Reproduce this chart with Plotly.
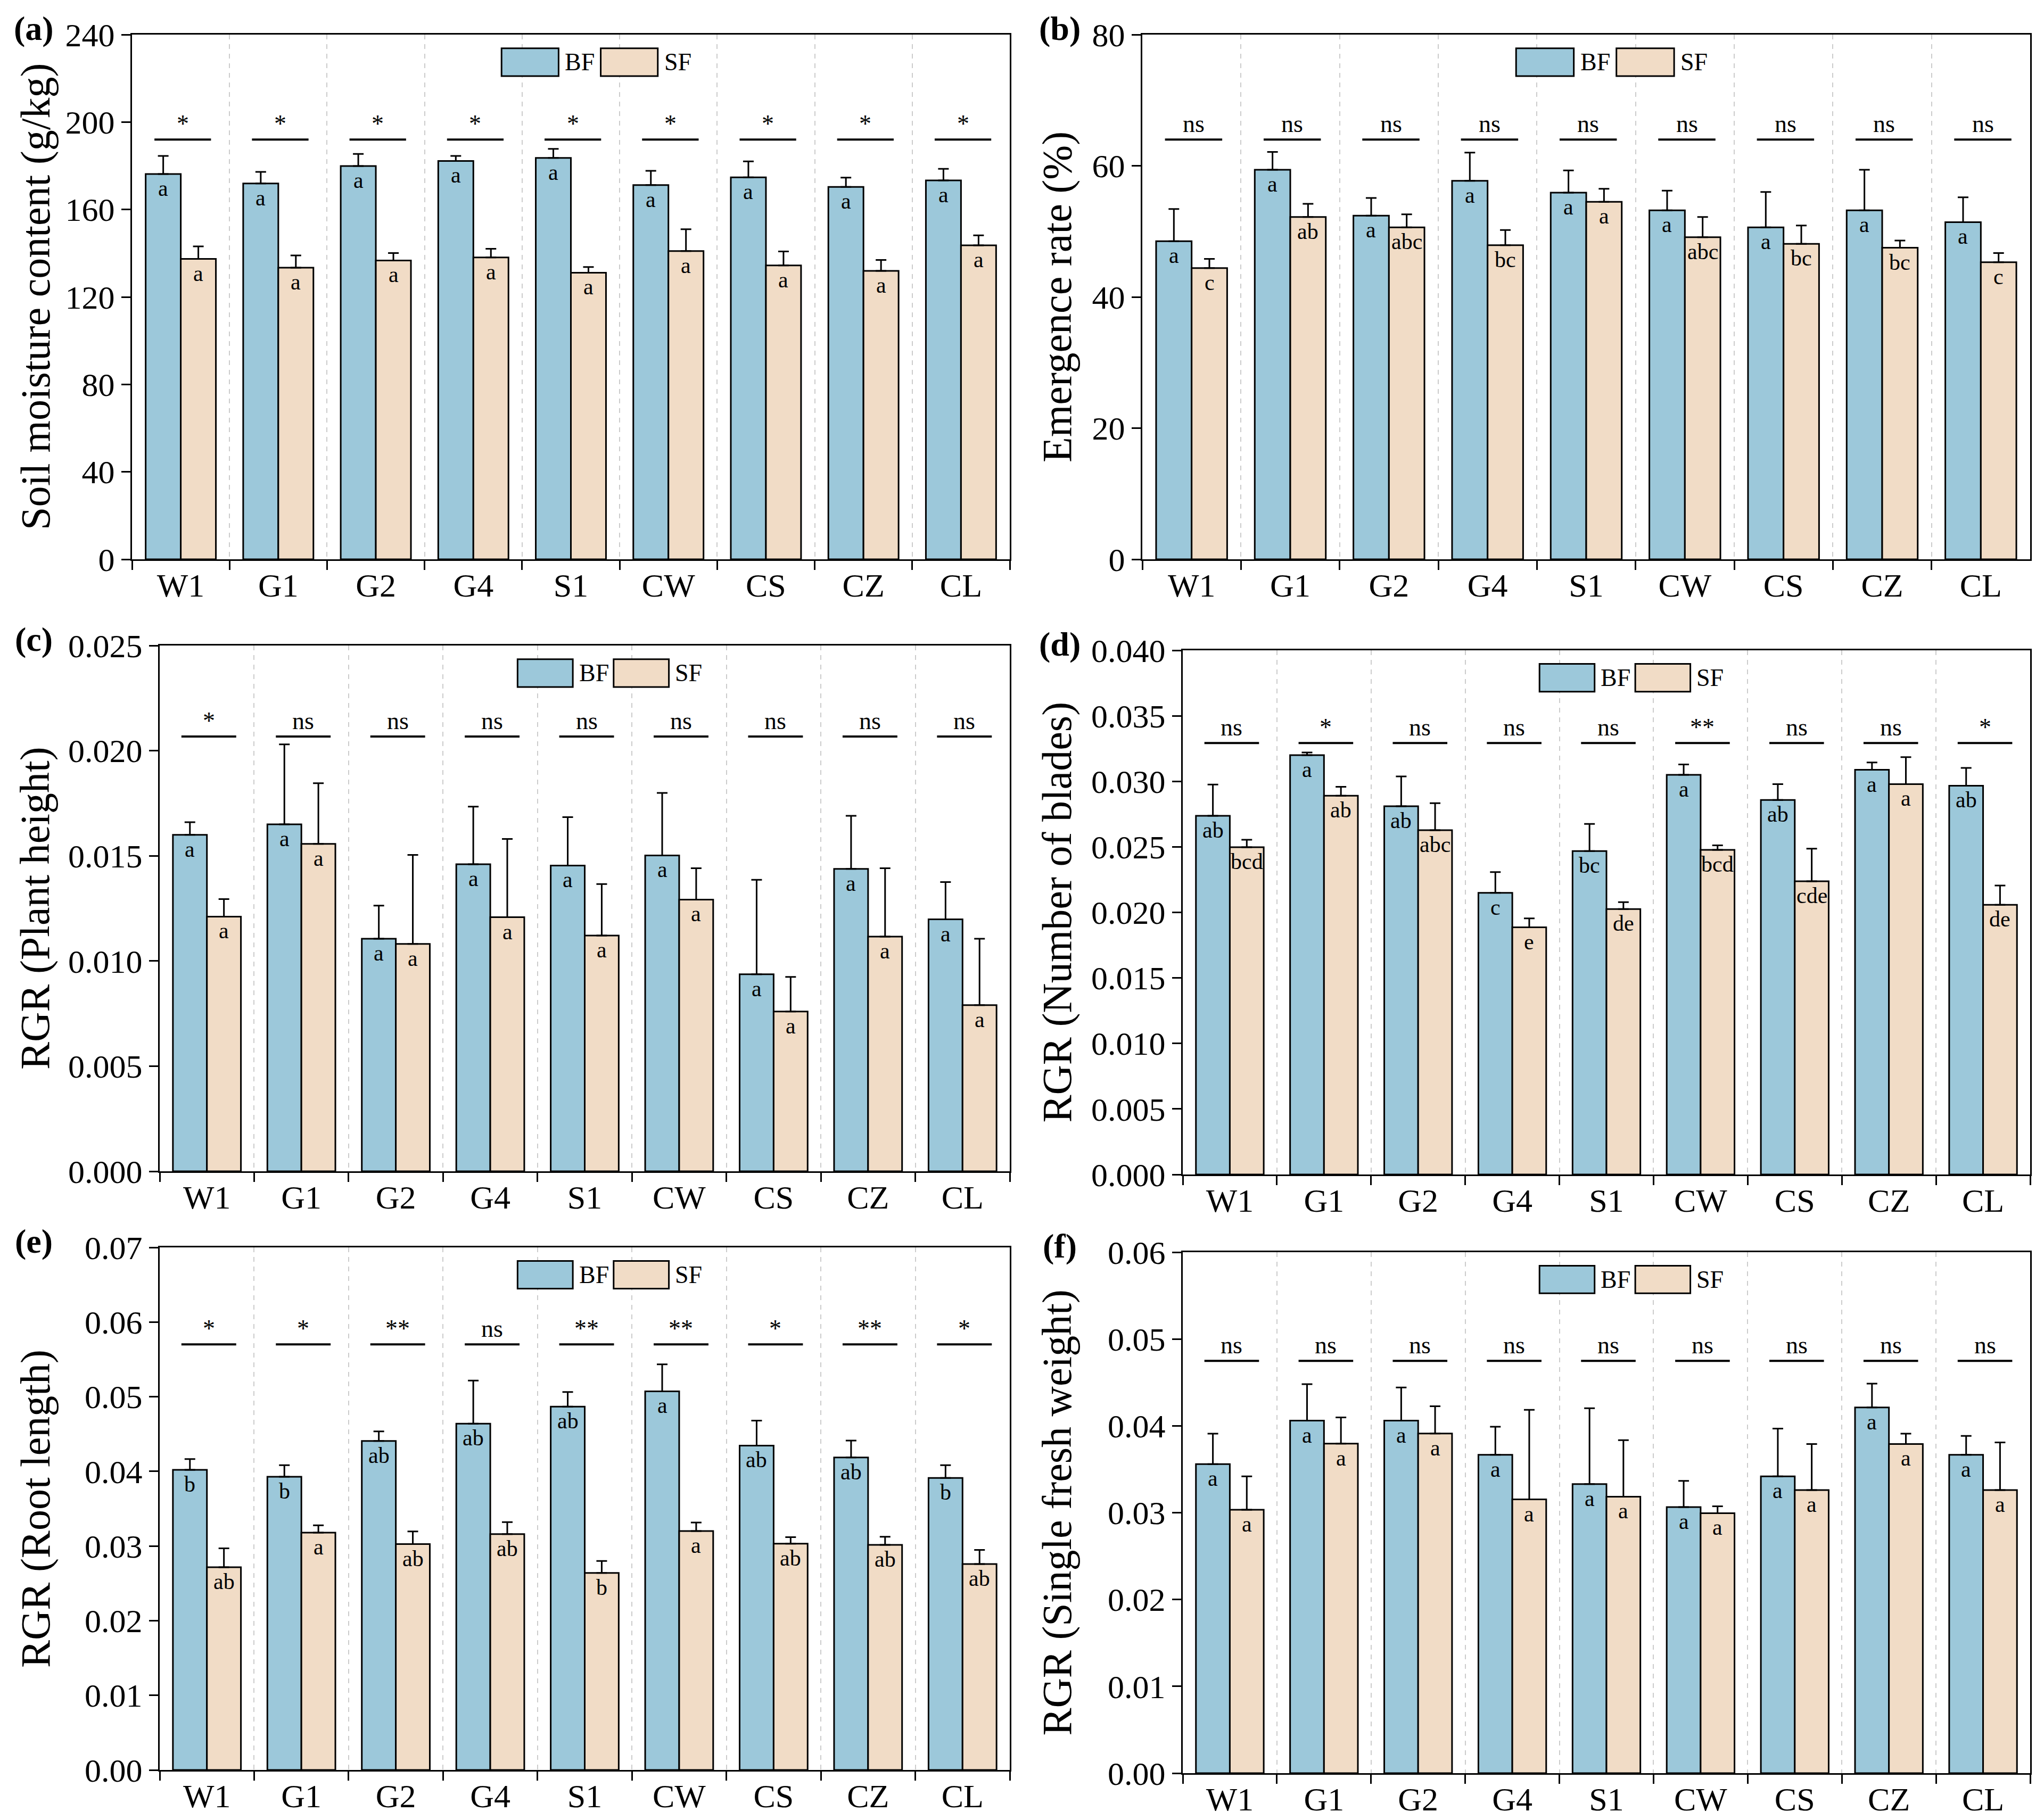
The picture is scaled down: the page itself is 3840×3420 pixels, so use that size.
import plotly.graph_objects as go

categories = ["W1", "G1", "G2", "G4", "S1", "CW", "CS", "CZ", "CL"]

# (a) Soil moisture content
a_bf = [176.2, 171.9, 179.9, 182.2, 183.6, 171.2, 174.7, 170.3, 173.3]
a_bf_err = [8.3, 5.3, 5.5, 2.3, 4.1, 6.5, 7.3, 4.3, 5.3]
a_sf = [137.4, 133.4, 136.7, 138.1, 131.1, 141.0, 134.4, 131.9, 143.6]
a_sf_err = [5.7, 5.6, 3.4, 3.9, 2.6, 10.0, 6.4, 5.0, 4.6]
a_bf_letters = ["a", "a", "a", "a", "a", "a", "a", "a", "a"]
a_sf_letters = ["a", "a", "a", "a", "a", "a", "a", "a", "a"]
a_sig = ["*", "*", "*", "*", "*", "*", "*", "*", "*"]
a_sig_level = 192

# (b) Emergence rate
b_bf = [48.5, 59.4, 52.4, 57.7, 55.9, 53.2, 50.6, 53.2, 51.4]
b_bf_err = [4.9, 2.7, 2.7, 4.3, 3.4, 3.0, 5.4, 6.2, 3.8]
b_sf = [44.4, 52.2, 50.6, 47.9, 54.5, 49.1, 48.1, 47.5, 45.3]
b_sf_err = [1.4, 2.0, 2.0, 2.3, 2.0, 3.1, 2.8, 1.1, 1.4]
b_bf_letters = ["a", "a", "a", "a", "a", "a", "a", "a", "a"]
b_sf_letters = ["c", "ab", "abc", "bc", "a", "abc", "bc", "bc", "c"]
b_sig = ["ns", "ns", "ns", "ns", "ns", "ns", "ns", "ns", "ns"]
b_sig_level = 64

# (c) RGR plant height
c_bf = [0.0160, 0.0165, 0.01106, 0.0146, 0.01454, 0.01502, 0.00937, 0.01438, 0.01198]
c_bf_err = [0.0006, 0.0038, 0.00157, 0.00274, 0.0023, 0.00297, 0.00449, 0.00252, 0.00177]
c_sf = [0.01211, 0.01557, 0.01081, 0.01208, 0.01121, 0.01292, 0.0076, 0.01116, 0.0079]
c_sf_err = [0.00083, 0.00288, 0.00423, 0.00372, 0.00245, 0.00149, 0.00164, 0.00325, 0.00316]
c_bf_letters = ["a", "a", "a", "a", "a", "a", "a", "a", "a"]
c_sf_letters = ["a", "a", "a", "a", "a", "a", "a", "a", "a"]
c_sig = ["*", "ns", "ns", "ns", "ns", "ns", "ns", "ns", "ns"]
c_sig_level = 0.02067

# (d) RGR number of blades
d_bf = [0.02737, 0.0320, 0.0281, 0.02149, 0.02468, 0.0305, 0.02858, 0.03088, 0.02967]
d_bf_err = [0.00239, 0.0002, 0.00228, 0.00159, 0.00207, 0.00079, 0.00121, 0.00056, 0.00136]
d_sf = [0.02497, 0.0289, 0.02627, 0.01886, 0.02025, 0.02477, 0.02238, 0.02979, 0.02058]
d_sf_err = [0.00057, 0.00068, 0.00207, 0.00068, 0.00053, 0.00035, 0.00248, 0.00206, 0.00147]
d_bf_letters = ["ab", "a", "ab", "c", "bc", "a", "ab", "a", "ab"]
d_sf_letters = ["bcd", "ab", "abc", "e", "de", "bcd", "cde", "a", "de"]
d_sig = ["ns", "*", "ns", "ns", "ns", "**", "ns", "ns", "*"]
d_sig_level = 0.03292

# (e) RGR root length
e_bf = [0.0402, 0.03928, 0.04407, 0.04639, 0.04866, 0.05072, 0.04345, 0.04186, 0.03912]
e_bf_err = [0.00145, 0.00154, 0.00129, 0.00577, 0.00196, 0.00361, 0.00335, 0.00226, 0.0017]
e_sf = [0.02716, 0.0318, 0.03026, 0.0316, 0.02639, 0.03201, 0.03031, 0.03015, 0.02758]
e_sf_err = [0.00253, 0.00098, 0.0017, 0.0016, 0.0016, 0.00113, 0.00088, 0.00109, 0.0019]
e_bf_letters = ["b", "b", "ab", "ab", "ab", "a", "ab", "ab", "b"]
e_sf_letters = ["ab", "a", "ab", "ab", "b", "a", "ab", "ab", "ab"]
e_sig = ["*", "*", "**", "ns", "**", "**", "*", "**", "*"]
e_sig_level = 0.057

# (f) RGR single fresh weight
f_bf = [0.0356, 0.0406, 0.0406, 0.03667, 0.0333, 0.03065, 0.03419, 0.04212, 0.03667]
f_bf_err = [0.0035, 0.0042, 0.00382, 0.00323, 0.00873, 0.00301, 0.00549, 0.00274, 0.00217]
f_sf = [0.03034, 0.03795, 0.03911, 0.03153, 0.03184, 0.02994, 0.0326, 0.03791, 0.0326]
f_sf_err = [0.00385, 0.00302, 0.00314, 0.01032, 0.00651, 0.00079, 0.00531, 0.00119, 0.00549]
f_bf_letters = ["a", "a", "a", "a", "a", "a", "a", "a", "a"]
f_sf_letters = ["a", "a", "a", "a", "a", "a", "a", "a", "a"]
f_sig = ["ns", "ns", "ns", "ns", "ns", "ns", "ns", "ns", "ns"]
f_sig_level = 0.04748

W, H = 3840, 3420
FONT = "Liberation Serif"
BF_COLOR = "#9cc8da"
SF_COLOR = "#f1dcc6"

panels = [
    dict(tag="(a)", title="Soil moisture content (g/kg)", bf=a_bf, bf_err=a_bf_err, sf=a_sf, sf_err=a_sf_err,
         bl=a_bf_letters, sl=a_sf_letters, sig=a_sig, lvl=a_sig_level, yr=[0, 240], dt=40, fmt="d",
         px=(240, 1889), py=(57, 1043)),
    dict(tag="(b)", title="Emergence rate (%)", bf=b_bf, bf_err=b_bf_err, sf=b_sf, sf_err=b_sf_err,
         bl=b_bf_letters, sl=b_sf_letters, sig=b_sig, lvl=b_sig_level, yr=[0, 80], dt=20, fmt="d",
         px=(2138, 3806), py=(57, 1043)),
    dict(tag="(c)", title="RGR (Plant height)", bf=c_bf, bf_err=c_bf_err, sf=c_sf, sf_err=c_sf_err,
         bl=c_bf_letters, sl=c_sf_letters, sig=c_sig, lvl=c_sig_level, yr=[0, 0.025], dt=0.005, fmt=".3f",
         px=(292, 1889), py=(1205, 2193)),
    dict(tag="(d)", title="RGR (Number of blades)", bf=d_bf, bf_err=d_bf_err, sf=d_sf, sf_err=d_sf_err,
         bl=d_bf_letters, sl=d_sf_letters, sig=d_sig, lvl=d_sig_level, yr=[0, 0.040], dt=0.005, fmt=".3f",
         px=(2214, 3806), py=(1214, 2199)),
    dict(tag="(e)", title="RGR (Root length)", bf=e_bf, bf_err=e_bf_err, sf=e_sf, sf_err=e_sf_err,
         bl=e_bf_letters, sl=e_sf_letters, sig=e_sig, lvl=e_sig_level, yr=[0, 0.07], dt=0.01, fmt=".2f",
         px=(292, 1889), py=(2336, 3318)),
    dict(tag="(f)", title="RGR (Single fresh weight)", bf=f_bf, bf_err=f_bf_err, sf=f_sf, sf_err=f_sf_err,
         bl=f_bf_letters, sl=f_sf_letters, sig=f_sig, lvl=f_sig_level, yr=[0, 0.06], dt=0.01, fmt=".2f",
         px=(2214, 3806), py=(2345, 3324)),
]

fig = go.Figure()
layout = {}
annotations = []
shapes = []

for i, p in enumerate(panels):
    n = "" if i == 0 else str(i + 1)
    xa, ya = "x" + n, "y" + n
    zeros = [0] * len(categories)

    # barras BF y SF con error solo hacia arriba
    for vals, errs, color in [(p["bf"], p["bf_err"], BF_COLOR), (p["sf"], p["sf_err"], SF_COLOR)]:
        fig.add_trace(go.Bar(
            x=categories, y=vals, xaxis=xa, yaxis=ya, showlegend=False,
            marker=dict(color=color, line=dict(color="black", width=3)),
            error_y=dict(type="data", array=errs, arrayminus=zeros, symmetric=False,
                         color="black", thickness=3, width=10),
        ))

    x0, x1 = p["px"][0] / W, p["px"][1] / W
    y0, y1 = 1 - p["py"][1] / H, 1 - p["py"][0] / H
    layout["xaxis" + n] = dict(
        domain=[x0, x1], anchor=ya, type="category", range=[-0.5, 8.5], tickson="boundaries",
        ticks="outside", ticklen=17, tickwidth=3, tickcolor="black", automargin=False,
        ticklabelstandoff=-7,
        showgrid=True, gridcolor="#cccccc", griddash="dash", gridwidth=2,
        showline=True, linecolor="black", linewidth=3, mirror=True,
        tickfont=dict(family=FONT, size=62, color="black"),
    )
    layout["yaxis" + n] = dict(
        domain=[y0, y1], anchor=xa, range=p["yr"], dtick=p["dt"], tick0=0, tickformat=p["fmt"],
        ticks="outside", ticklen=17, tickwidth=3, tickcolor="black", automargin=False,
        showgrid=False, zeroline=False, showline=True, linecolor="black", linewidth=3, mirror=True,
        tickfont=dict(family=FONT, size=62, color="black"),
    )

    for j in range(len(categories)):
        # letras de significancia dentro de las barras
        annotations.append(dict(x=j - 0.18, y=p["bf"][j], xref=xa, yref=ya, text=p["bl"][j],
                                showarrow=False, yanchor="top", yshift=-2,
                                font=dict(family=FONT, size=42, color="black")))
        annotations.append(dict(x=j + 0.18, y=p["sf"][j], xref=xa, yref=ya, text=p["sl"][j],
                                showarrow=False, yanchor="top", yshift=-2,
                                font=dict(family=FONT, size=42, color="black")))
        # linea y marca BF vs SF
        shapes.append(dict(type="line", xref=xa, yref=ya, x0=j - 0.27, x1=j + 0.31,
                           y0=p["lvl"], y1=p["lvl"], line=dict(color="black", width=4)))
        annotations.append(dict(x=j + 0.02, y=p["lvl"], xref=xa, yref=ya, text=p["sig"][j],
                                showarrow=False, yanchor="bottom", yshift=2,
                                font=dict(family=FONT, size=46, color="black")))

    # leyenda dibujada a mano
    for k, (name, color) in enumerate([("BF", BF_COLOR), ("SF", SF_COLOR)]):
        bx = 0.421 + k * 0.113
        shapes.append(dict(type="rect", xref=xa + " domain", yref=ya + " domain",
                           x0=bx, x1=bx + 0.065, y0=0.921, y1=0.974,
                           fillcolor=color, line=dict(color="black", width=3)))
        annotations.append(dict(x=bx + 0.071, y=0.9475, xref=xa + " domain", yref=ya + " domain",
                                text=name, showarrow=False, xanchor="left", yanchor="middle",
                                font=dict(family=FONT, size=46, color="black")))

    # titulo del eje y etiqueta del panel
    left = i % 2 == 0
    annotations.append(dict(x=(58 if left else 1977) / W, y=(y0 + y1) / 2, xref="paper", yref="paper",
                            text=p["title"], textangle=-90, showarrow=False,
                            xanchor="center", yanchor="middle",
                            font=dict(family=FONT, size=78, color="black")))
    annotations.append(dict(x=(55 if left else 1983) / W, y=1 - (p["py"][0] - 12) / H,
                            xref="paper", yref="paper", text="<b>" + p["tag"] + "</b>",
                            showarrow=False, xanchor="center", yanchor="middle",
                            font=dict(family=FONT, size=64, color="black")))

fig.update_layout(
    width=W, height=H, margin=dict(l=0, r=0, t=0, b=0, pad=0),
    paper_bgcolor="white", plot_bgcolor="white",
    barmode="group", bargap=0.28, bargroupgap=0,
    annotations=annotations, shapes=shapes, **layout,
)

fig.write_html("out.html")
